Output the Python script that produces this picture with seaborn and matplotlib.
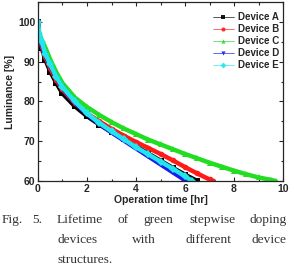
import seaborn as sns
import matplotlib.pyplot as plt
import pandas as pd
from matplotlib.lines import Line2D
from matplotlib.ticker import MultipleLocator

# values
time_a = [0, 0.05, 0.15, 0.3, 0.5, 0.75, 1.0, 1.5, 2.0, 2.5, 3.0, 3.5, 4.0, 4.5, 5.0, 5.5, 6.0, 6.5]
lum_a = [100, 95.5, 93.5, 90.5, 87.5, 84.6, 82.0, 78.8, 76.3, 74.2, 72.3, 70.5, 68.7, 66.9, 65.1, 63.3, 61.6, 60.0]

time_b = [0, 0.05, 0.15, 0.3, 0.5, 0.75, 1.0, 1.5, 2.0, 2.5, 3.0, 3.5, 4.0, 4.5, 5.0, 5.5, 6.0, 6.5, 7.0, 7.15]
lum_b = [100, 96.0, 94.0, 91.2, 88.3, 85.4, 83.0, 79.6, 77.0, 75.0, 73.1, 71.4, 69.8, 68.3, 66.8, 65.2, 63.5, 61.9, 60.4, 60.0]

time_c = [0, 0.05, 0.15, 0.3, 0.5, 0.75, 1.0, 1.5, 2.0, 2.5, 3.0, 3.5, 4.0, 4.5, 5.0, 5.5, 6.0, 6.5, 7.0, 7.5, 8.0, 8.5, 9.0, 9.5, 9.7]
lum_c = [100, 97.0, 95.5, 93.5, 90.5, 87.3, 84.6, 81.0, 78.6, 76.6, 74.8, 73.2, 71.8, 70.4, 69.2, 68.0, 66.8, 65.7, 64.6, 63.6, 62.6, 61.7, 60.9, 60.3, 60.0]

time_d = [0, 0.05, 0.15, 0.3, 0.5, 0.75, 1.0, 1.5, 2.0, 2.5, 3.0, 3.5, 4.0, 4.5, 5.0, 5.5, 6.0, 6.05]
lum_d = [100, 96.5, 94.5, 91.6, 89.0, 86.0, 83.4, 79.8, 76.8, 74.4, 72.2, 70.2, 68.2, 66.2, 64.2, 62.2, 60.2, 60.0]

time_e = [0, 0.05, 0.15, 0.3, 0.5, 0.75, 1.0, 1.5, 2.0, 2.5, 3.0, 3.5, 4.0, 4.5, 5.0, 5.5, 6.0, 6.3]
lum_e = [100, 97.0, 95.0, 92.0, 89.3, 86.2, 83.6, 80.0, 77.0, 74.6, 72.5, 70.5, 68.5, 66.7, 64.9, 63.1, 61.2, 60.0]

devices = ["Device A", "Device B", "Device C", "Device D", "Device E"]
colors = ["#000000", "#ff1a1a", "#22dd22", "#1a1aee", "#22e5ee"]
markers = ["s", "o", "^", "v", "D"]

frames = []
for name, t, l in zip(devices, [time_a, time_b, time_c, time_d, time_e],
                      [lum_a, lum_b, lum_c, lum_d, lum_e]):
    frames.append(pd.DataFrame({"time": t, "lum": l, "device": name}))
df = pd.concat(frames, ignore_index=True)

sns.set_style("ticks")
plt.rcParams['font.family'] = ['Liberation Sans', 'DejaVu Sans']
plt.rcParams['xtick.direction'] = 'in'
plt.rcParams['ytick.direction'] = 'in'

fig = plt.figure(figsize=(2.9, 2.71), dpi=100)
ax = fig.add_axes([0.131, 0.332, 0.845, 0.661])

sns.lineplot(data=df, x="time", y="lum", hue="device", style="device",
             palette=colors, markers=markers, dashes=False, linewidth=3.2,
             markersize=4, markeredgewidth=0, sort=False, legend=False, ax=ax)

ax.set_xlim(0, 10)
ax.set_ylim(60, 105)
ax.xaxis.set_major_locator(MultipleLocator(2))
ax.xaxis.set_minor_locator(MultipleLocator(1))
ax.yaxis.set_major_locator(MultipleLocator(10))
ax.yaxis.set_minor_locator(MultipleLocator(5))
ax.tick_params(which='both', top=True, right=True, labelsize=7.5, pad=2, width=0.8)
ax.tick_params(which='major', length=3)
ax.tick_params(which='minor', length=1.8)
for lab in ax.get_xticklabels() + ax.get_yticklabels():
    lab.set_fontweight('bold')
for sp in ax.spines.values():
    sp.set_linewidth(0.9)

ax.set_xlabel("Operation time [hr]", fontsize=7.5, fontweight='bold', labelpad=1)
ax.set_ylabel("Luminance [%]", fontsize=7.5, fontweight='bold', labelpad=2)

handles = [Line2D([0], [0], color=c, marker=m, markersize=3, linewidth=0.5,
                  alpha=0.9, markeredgewidth=0) for c, m in zip(colors, markers)]
ax.legend(handles, devices, loc='upper right', bbox_to_anchor=(1.02, 0.99),
          frameon=False, prop={'weight': 'bold', 'size': 7}, handlelength=2.2,
          handletextpad=0.4, labelspacing=0.2, borderaxespad=0.5)

# caption, justified word by word
cap_font = dict(family='Liberation Serif', fontsize=9.6, color='#333333', va='baseline')
line1 = [("Fig.", 2, 'left'), ("5.", 32, 'left'), ("Lifetime", 57, 'left'),
         ("of", 118, 'left'), ("green", 143, 'left'), ("stepwise", 190, 'left'),
         ("doping", 287, 'right')]
line2 = [("devices", 57, 'left'), ("with", 132, 'left'), ("different", 185, 'left'),
         ("device", 287, 'right')]
line3 = [("structures.", 57, 'left')]
for words, ypx in [(line1, 223), (line2, 243), (line3, 263)]:
    for w, xpx, ha in words:
        fig.text(xpx / 290, 1 - ypx / 271, w, ha=ha, **cap_font)

fig.savefig("out.png", dpi=100)
